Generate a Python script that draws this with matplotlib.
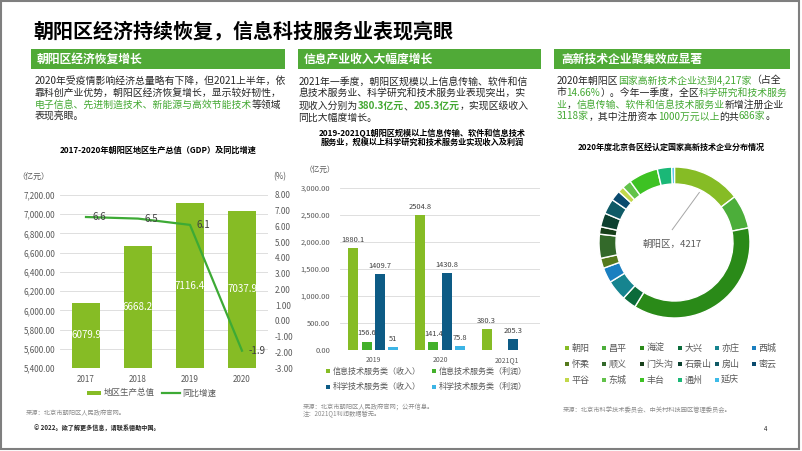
import matplotlib
matplotlib.use("Agg")
import matplotlib.pyplot as plt
from matplotlib.patches import Rectangle
from matplotlib.lines import Line2D
import numpy as np

FAM = ['Noto Sans CJK SC', 'DejaVu Sans']
plt.rcParams['font.family'] = FAM
plt.rcParams['axes.unicode_minus'] = False

# ---------------- data ----------------
gdp_years = ['2017', '2018', '2019', '2020']
gdp_values = [6079.9, 6668.2, 7116.4, 7037.9]
gdp_growth = [6.6, 6.5, 6.1, -1.9]

rev_groups = ['2019', '2020', '2021Q1']
it_revenue = [1880.1, 2504.8, 380.3]
it_profit = [156.6, 141.4, np.nan]
sci_revenue = [1409.7, 1430.8, 205.3]
sci_profit = [51, 75.8, np.nan]
rev_series_names = ['信息技术服务类（收入）', '信息技术服务类（利润）',
                    '科学技术服务类（收入）', '科学技术服务类（利润）']

districts = ['朝阳', '昌平', '海淀', '大兴', '亦庄', '西城', '怀柔', '顺义', '门头沟',
             '石景山', '房山', '密云', '平谷', '东城', '丰台', '通州', '延庆']
district_counts = [4217, 2080, 10610, 870, 1270, 935, 620, 1480, 455,
                   855, 935, 630, 370, 565, 1815, 885, 170]

# ---------------- styles ----------------
W, H = 802, 451
HEAD_GREEN = '#50aa37'
TXT_GREEN = '#43a832'
BAR_GREEN = '#86bc25'
LINE_GREEN = '#3daa35'
GRAY = '#595959'
SRC = '#8c8c8c'
GRID = '#d9d9d9'
rev_colors = ['#86bc25', '#43b02a', '#0d5b85', '#3cb4e5']
donut_colors = ['#86bc25', '#4cae3a', '#2a8a18', '#0b6b3a', '#16848f', '#1a7fc0',
                '#557a1c', '#33692a', '#173f1a', '#0c4030', '#0f5a66', '#0a4a6e',
                '#c2d84a', '#62c24a', '#3dc223', '#1ab877', '#3dbbe8']

fig = plt.figure(figsize=(W / 100, H / 100), dpi=100)
renderer = fig.canvas.get_renderer()


def fx(x):
    return x / W


def fy(y):
    return 1 - y / H


def axes_px(l, t, r, b):
    return fig.add_axes([l / W, 1 - b / H, (r - l) / W, (b - t) / H])


def ftext(x, y, s, **kw):
    kw.setdefault('va', 'center')
    kw.setdefault('ha', 'left')
    return fig.text(fx(x), fy(y), s, **kw)


def rich(x, y, parts, size):
    cx = x
    for s, color, weight in parts:
        t = ftext(cx, y, s, color=color, fontsize=size, fontweight=weight)
        bb = t.get_window_extent(renderer)
        cx += bb.width


# border
fig.patches.append(Rectangle((fx(1), fy(449)), fx(798), (448) / H, transform=fig.transFigure,
                             fill=False, edgecolor='#7f7f7f', linewidth=1.5))

# title
ftext(33, 31, '朝阳区经济持续恢复，信息科技服务业表现亮眼', fontsize=14.4,
      fontweight='bold', color='black')

# section headers
for (l, r, txt, tx) in [(31, 285, '朝阳区经济恢复增长', 37),
                        (298, 541, '信息产业收入大幅度增长', 304),
                        (554, 790, '高新技术企业聚集效应显著', 561)]:
    fig.patches.append(Rectangle((fx(l), fy(69)), (r - l) / W, 20 / H,
                                 transform=fig.transFigure, color=HEAD_GREEN, lw=0))
    ftext(tx, 59, txt, fontsize=8.5, color='white', fontweight='bold')

BS = 7.1
K = '#262626'
# section 1 paragraph
rich(34.5, 80.5, [('2020年受疫情影响经济总量略有下降，但2021上半年，依', K, 'normal')], BS)
rich(34.5, 92.5, [('靠科创产业优势，朝阳区经济恢复增长，显示较好韧性，', K, 'normal')], BS)
rich(34.5, 104.5, [('电子信息、先进制造技术、新能源与高效节能技术', TXT_GREEN, 'normal'),
                   ('等领域', K, 'normal')], BS)
rich(34.5, 116.5, [('表现亮眼。', K, 'normal')], BS)

# section 2 paragraph
rich(298.5, 82, [('2021年一季度，朝阳区规模以上信息传输、软件和信', K, 'normal')], BS)
rich(298.5, 94, [('息技术服务业、科学研究和技术服务业表现突出，实', K, 'normal')], BS)
rich(298.5, 106, [('现收入分别为', K, 'normal'), ('380.3亿元', TXT_GREEN, 'bold'),
                  ('、', K, 'normal'), ('205.3亿元', TXT_GREEN, 'bold'),
                  ('，实现区级收入', K, 'normal')], BS)
rich(298.5, 118, [('同比大幅度增长。', K, 'normal')], BS)

# section 3 paragraph
rich(556.5, 80.5, [('2020年朝阳区', K, 'normal'), ('国家高新技术企业达到4,217家', TXT_GREEN, 'normal'),
                   ('（占全', K, 'normal')], BS)
rich(556.5, 92.5, [('市', K, 'normal'), ('14.66%', TXT_GREEN, 'normal'),
                   ('）。今年一季度，全区', K, 'normal'), ('科学研究和技术服务', TXT_GREEN, 'normal')], BS)
rich(556.5, 104.5, [('业', TXT_GREEN, 'normal'), ('，', K, 'normal'),
                    ('信息传输、软件和信息技术服务业', TXT_GREEN, 'normal'),
                    ('新增注册企业', K, 'normal')], BS)
rich(556.5, 116.5, [('3118家', TXT_GREEN, 'normal'), ('，其中注册资本', K, 'normal'),
                    ('1000万元以上', TXT_GREEN, 'normal'), ('的共', K, 'normal'),
                    ('686家', TXT_GREEN, 'normal'), ('。', K, 'normal')], BS)

# ---------------- chart 1: GDP ----------------
ftext(158.5, 150, '2017-2020年朝阳区地区生产总值（GDP）及同比增速', ha='center',
      fontsize=5.9, fontweight='bold', color='black')
ftext(33, 177, '（亿元）', ha='center', fontsize=5.8, color=GRAY)
ftext(280, 177, '(%)', ha='center', fontsize=5.8, color=GRAY)

ax1 = axes_px(60, 195, 268, 368)
x1 = np.arange(len(gdp_years))
bars = ax1.bar(x1, gdp_values, width=0.55, color=BAR_GREEN, zorder=2)
ax1.set_ylim(5400, 7200)
ax1.set_xlim(-0.5, 3.5)
ax1.set_yticks(np.arange(5400, 7201, 200))
ax1.set_yticklabels([f'{v:,.2f}' for v in np.arange(5400, 7201, 200)])
ax1.set_xticks(x1)
ax1.set_xticklabels(gdp_years)
ax1.grid(axis='y', color=GRID, linewidth=0.6, zorder=0)
ax1.tick_params(axis='y', length=0, labelsize=5.8, labelcolor=GRAY, pad=3.6)
ax1.tick_params(axis='x', length=0, labelsize=5.8, labelcolor=GRAY, pad=5)
for s in ax1.spines.values():
    s.set_visible(False)
ax1.bar_label(bars, labels=[f'{v:.1f}' for v in gdp_values], label_type='center',
              color='white', fontsize=7)

ax1b = ax1.twinx()
ax1b.plot(x1, gdp_growth, color=LINE_GREEN, linewidth=1.6, zorder=3)
ax1b.set_ylim(-3, 8)
ax1b.set_yticks(np.arange(-3, 8.01, 1))
ax1b.set_yticklabels([f'{v:.2f}' for v in np.arange(-3, 8.01, 1)])
ax1b.tick_params(axis='y', length=0, labelsize=5.8, labelcolor=GRAY, pad=5)
for s in ax1b.spines.values():
    s.set_visible(False)
for xi, v in zip(x1, gdp_growth):
    ax1b.annotate(f'{v:.1f}', (xi, v), xytext=(4.5, 0), textcoords='offset points',
                  ha='left', va='center', fontsize=7, color='#404040')

# legend chart 1
fig.patches.append(Rectangle((fx(87), fy(395)), 14 / W, 4.5 / H, transform=fig.transFigure,
                             color=BAR_GREEN, lw=0))
ftext(104, 393, '地区生产总值', fontsize=6.1, color=GRAY)
fig.lines.append(Line2D([fx(162), fx(180)], [fy(393), fy(393)], transform=fig.transFigure,
                        color=LINE_GREEN, linewidth=1.6))
ftext(182, 393, '同比增速', fontsize=6.1, color=GRAY)
ftext(26, 413, '来源：北京市朝阳区人民政府官网。', fontsize=4.5, color=SRC, style='italic')

# ---------------- chart 2: revenue ----------------
ftext(422, 133, '2019-2021Q1朝阳区规模以上信息传输、软件和信息技术', ha='center',
      fontsize=5.9, fontweight='bold', color='black')
ftext(422, 142.5, '服务业，规模以上科学研究和技术服务业实现收入及利润', ha='center',
      fontsize=5.9, fontweight='bold', color='black')
ftext(320, 170, '（亿元）', ha='center', fontsize=5.5, color=GRAY)

ax2 = axes_px(340, 188, 540, 350)
x2 = np.arange(len(rev_groups))
series = [it_revenue, it_profit, sci_revenue, sci_profit]
offsets = [-0.3, -0.1, 0.1, 0.3]
for vals, off, col in zip(series, offsets, rev_colors):
    b = ax2.bar(x2 + off, vals, width=0.15, color=col, zorder=2)
    for xi, v in zip(x2 + off, vals):
        if not np.isnan(v):
            lab = f'{v:.1f}' if v != int(v) else f'{int(v)}'
            ax2.annotate(lab, (xi, v), xytext=(0, 5.8), textcoords='offset points',
                         ha='center', va='center', fontsize=5.4, color='#404040')
ax2.set_ylim(0, 3000)
ax2.set_xlim(-0.5, 2.5)
ax2.set_yticks(np.arange(0, 3001, 500))
ax2.set_yticklabels([f'{v:,.2f}' for v in np.arange(0, 3001, 500)])
ax2.set_xticks(x2)
ax2.set_xticklabels(rev_groups)
ax2.grid(axis='y', color=GRID, linewidth=0.6, zorder=0)
ax2.tick_params(axis='y', length=0, labelsize=5.4, labelcolor=GRAY, pad=7)
ax2.tick_params(axis='x', length=0, labelsize=5.0, labelcolor=GRAY, pad=4.3)
for s in ax2.spines.values():
    s.set_visible(False)

for i, (name, col) in enumerate(zip(rev_series_names, rev_colors)):
    sx = [328.3, 434.3][i % 2]
    sy = [371, 386.7][i // 2]
    fig.patches.append(Rectangle((fx(sx - 2), fy(sy + 2)), 4 / W, 4 / H,
                                 transform=fig.transFigure, color=col, lw=0))
    ftext(sx + 4.5, sy, name, fontsize=5.8, color=GRAY)
ftext(303, 407, '来源：北京市朝阳区人民政府官网；公开信息。', fontsize=4.5, color=SRC, style='italic')
ftext(303, 414.5, '注：2021Q1利润数据暂无。', fontsize=4.5, color=SRC, style='italic')

# ---------------- chart 3: donut ----------------
ftext(671.5, 147, '2020年度北京各区经认定国家高新技术企业分布情况', ha='center',
      fontsize=5.8, fontweight='bold', color='black')
cx, cy, R = 674.5, 242.5, 75.5
ax3 = axes_px(cx - R, cy - R, cx + R, cy + R)
wedges, _ = ax3.pie(district_counts, colors=donut_colors, startangle=90, counterclock=False,
                    radius=1, wedgeprops=dict(width=0.225, edgecolor='white', linewidth=1.0))
ax3.set_xlim(-1, 1)
ax3.set_ylim(-1, 1)
ax3.axis('off')
w0 = wedges[0]
mid = np.deg2rad((w0.theta1 + w0.theta2) / 2)
ax3.plot([-0.03, 0.74 * np.cos(mid)], [0.17, 0.74 * np.sin(mid)], color='#a6a6a6', lw=0.7)
ax3.text(-0.03, -0.02, f'{districts[0]}区，{district_counts[0]}', ha='center', va='center',
         fontsize=6.8, color=GRAY)

leg_x = [567.3, 604.3, 641.7, 680, 716.7, 754.3]
leg_y = [348.3, 364, 380.3]
for i, (name, col) in enumerate(zip(districts, donut_colors)):
    sx = leg_x[i % 6]
    sy = leg_y[i // 6]
    fig.patches.append(Rectangle((fx(sx - 2), fy(sy + 2)), 4 / W, 4 / H,
                                 transform=fig.transFigure, color=col, lw=0))
    ftext(sx + 4.5, sy, name, fontsize=6.5, color=GRAY)
ftext(563, 410, '来源：北京市科学技术委员会、中关村科技园区管理委员会。', fontsize=4.5,
      color=SRC, style='italic')

# footer
ftext(34, 428, '© 2022。欲了解更多信息，请联系德勤中国。', fontsize=4.4, color='#262626',
      fontweight='bold')
ftext(766, 429, '4', fontsize=4.4, color='#262626', ha='center')

fig.savefig('out.png', dpi=100)
